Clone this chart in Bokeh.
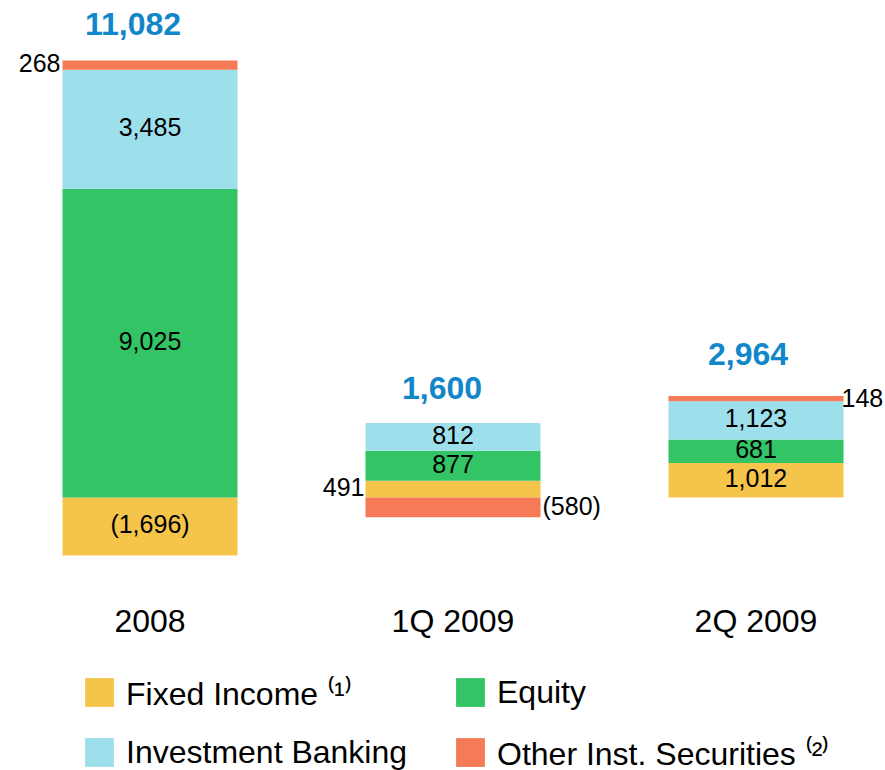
from bokeh.plotting import figure
from bokeh.models import (ColumnDataSource, LinearAxis, FixedTicker, Legend,
                          LegendItem, Range1d)
from bokeh.core.properties import value
from bokeh.embed import file_html
from bokeh.resources import INLINE

# ---- data -------------------------------------------------------------
categories = ["2008", "1Q 2009", "2Q 2009"]
fixed_income = [-1696, 491, 1012]
equity = [9025, 877, 681]
investment_banking = [3485, 812, 1123]
other_inst = [268, -580, 148]
totals = [11082, 1600, 2964]

series_labels = ["Fixed Income ⁽¹⁾", "Equity", "Investment Banking",
                 "Other Inst. Securities ⁽²⁾"]

# ---- style ------------------------------------------------------------
FONT = "Liberation Sans"
colors = ["#F5C44B", "#33C466", "#9EDFEC", "#F47B55"]
TOTAL_COLOR = "#1186C8"
BAR_W = 0.5776
# labels placed outside the bar: (series index, category index) -> (side, px offset)
outside = {(3, 0): ("left", -2), (0, 1): ("left", -1),
           (3, 1): ("right", 2), (3, 2): ("right", -2)}
total_dx = [-17, -11, -8]
total_dy = [-36, -35, -42]

p = figure(width=885, height=770, output_backend="svg", toolbar_location=None,
           x_axis_location=None, y_axis_location=None, min_border=0,
           x_range=Range1d(-0.4934, 2.4274), y_range=Range1d(-7983, 14532))
p.outline_line_color = None
p.xgrid.visible = False
p.ygrid.visible = False
p.background_fill_color = "white"
p.border_fill_color = "white"

xs = list(range(len(categories)))
series = [fixed_income, equity, investment_banking, other_inst]
pos = [0.0] * len(categories)
neg = [0.0] * len(categories)

lab = {k: dict(x=[], y=[], text=[], dx=[]) for k in ("center", "left", "right")}


def fmt(v):
    return f"({abs(v):,})" if v < 0 else f"{v:,}"


renderers = []
for si, (vals, col) in enumerate(zip(series, colors)):
    bottoms, tops = [], []
    for i, v in enumerate(vals):
        if v >= 0:
            b = pos[i]; t = b + v; pos[i] = t
        else:
            b = neg[i]; t = b + v; neg[i] = t
        bottoms.append(b); tops.append(t)
        side, dx = outside.get((si, i), ("center", 0))
        if side == "center":
            lx = i
        elif side == "left":
            lx = i - BAR_W / 2
        else:
            lx = i + BAR_W / 2
        lab[side]["x"].append(lx)
        lab[side]["y"].append((b + t) / 2)
        lab[side]["text"].append(fmt(v))
        lab[side]["dx"].append(dx)
    src = ColumnDataSource(dict(x=xs, bottom=bottoms, top=tops))
    r = p.vbar(x="x", bottom="bottom", top="top", width=BAR_W, source=src,
               fill_color=col, line_color=None)
    renderers.append(r)

common = dict(text_font=value(FONT), text_font_size="25px", text_color="black",
              text_baseline="middle")
p.text(x="x", y="y", text="text", source=ColumnDataSource(lab["center"]),
       text_align="center", y_offset=-2, **common)
p.text(x="x", y="y", text="text", source=ColumnDataSource(lab["left"]),
       text_align="right", x_offset="dx", y_offset=-2, **common)
p.text(x="x", y="y", text="text", source=ColumnDataSource(lab["right"]),
       text_align="left", x_offset="dx", y_offset=-1, **common)

# totals above bars
tsrc = ColumnDataSource(dict(x=xs, y=pos, text=[f"{t:,}" for t in totals],
                             dx=total_dx, dy=total_dy))
p.text(x="x", y="y", text="text", source=tsrc, x_offset="dx", y_offset="dy",
       text_font=value(FONT), text_font_size="32px", text_font_style="bold",
       text_color=TOTAL_COLOR, text_align="center", text_baseline="alphabetic")

# category axis
xaxis = LinearAxis(ticker=FixedTicker(ticks=xs),
                   major_label_overrides={i: c for i, c in enumerate(categories)},
                   fixed_location=0)
xaxis.axis_line_color = None
xaxis.major_tick_line_color = None
xaxis.minor_tick_line_color = None
xaxis.major_tick_out = 0
xaxis.major_label_standoff = 106
xaxis.major_label_text_font = FONT
xaxis.major_label_text_font_size = "32px"
xaxis.major_label_text_color = "black"
p.add_layout(xaxis, "below")

# legend
order = [0, 2, 1, 3]
legend = Legend(items=[LegendItem(label=series_labels[k], renderers=[renderers[k]])
                       for k in order],
                ncols=2, orientation="vertical", location=(81, -4))
legend.glyph_width = 36
legend.glyph_height = 36
legend.label_standoff = 9
legend.label_width = 310
legend.label_height = 44
legend.spacing = 16
legend.padding = 0
legend.margin = 0
legend.border_line_color = None
legend.background_fill_alpha = 0
legend.label_text_font = FONT
legend.label_text_font_size = "32px"
legend.label_text_color = "black"
p.add_layout(legend)

open("out.html", "w").write(file_html(p, INLINE))
